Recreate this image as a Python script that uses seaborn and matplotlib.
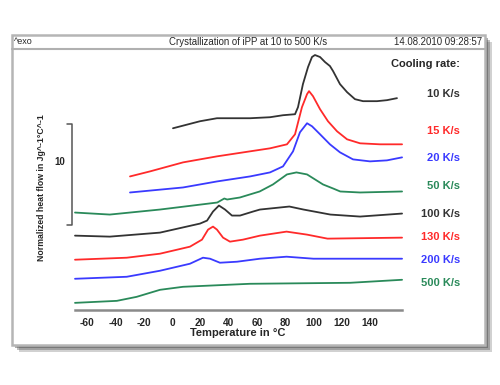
import numpy as np
import pandas as pd
import matplotlib
matplotlib.use("Agg")
import matplotlib.pyplot as plt
from matplotlib.patches import Rectangle
from matplotlib.lines import Line2D
import seaborn as sns

# cooling rates and curves (T in degC, heat flow offset-stacked)
rates = ["10 K/s", "15 K/s", "20 K/s", "50 K/s", "100 K/s", "130 K/s", "200 K/s", "500 K/s"]
colors = ["#333333", "#ff2a2a", "#3a3aff", "#2a8a5a", "#333333", "#ff2a2a", "#3a3aff", "#2a8a5a"]

t_10 = [0.7, 19.8, 31.8, 55.2, 69.3, 78.5, 87, 89.1, 92.6, 96.2, 99, 101.1, 104.7, 108.2, 111.7,
        113.9, 118.8, 123.8, 129.4, 135.1, 145, 152, 159.1]
hf_10 = [18.1, 18.8, 19.1, 19.1, 19.2, 19.4, 19.5, 20.2, 22.5, 24.2, 25.2, 25.4, 25.2, 24.7, 24.3,
         23.8, 22.5, 21.7, 21.0, 20.8, 20.8, 20.9, 21.1]

t_15 = [-29.7, -15.6, 7.8, 31.8, 55.2, 69.3, 81.3, 87, 91.9, 95.5, 96.9, 99.7, 104.7, 110.3, 116.7,
        123.8, 133, 147.1, 162.7]
hf_15 = [13.3, 13.8, 14.7, 15.3, 15.8, 16.1, 16.5, 17.5, 20.2, 21.5, 21.8, 21.3, 20.0, 18.8, 17.8,
         17.0, 16.6, 16.5, 16.5]

t_20 = [-29.7, 7.8, 31.8, 55.2, 69.3, 78.5, 85.6, 90.5, 95.5, 99, 104.7, 111.7, 118.8, 128, 140,
        152, 162.7]
hf_20 = [11.7, 12.2, 12.8, 13.3, 13.7, 14.3, 15.8, 17.7, 18.6, 18.3, 17.5, 16.5, 15.7, 15.0, 14.8,
         14.9, 15.2]

t_50 = [-68.6, -44, -8.5, 32, 37, 39, 48, 62, 71.4, 81.3, 88, 95.5, 106.8, 113.9, 119, 133, 162.7]
hf_50 = [9.7, 9.5, 10.0, 10.7, 11.1, 11.0, 11.2, 11.8, 12.5, 13.5, 13.7, 13.5, 12.5, 12.1, 11.8,
         11.7, 11.8]

t_100 = [-68.6, -44, -8.5, 19.8, 24.8, 29, 33.2, 37.5, 42.4, 48.1, 57.3, 62.2, 83, 93, 112, 133,
         162.7]
hf_100 = [7.4, 7.3, 7.7, 8.6, 8.9, 9.8, 10.4, 10.0, 9.4, 9.4, 9.8, 10.0, 10.3, 10.0, 9.5, 9.3, 9.6]

t_130 = [-68.6, -32, -8.5, 12.7, 21.2, 25.5, 29, 31.8, 36.1, 41, 50.2, 62.2, 81, 95.5, 110, 162.7]
hf_130 = [5.0, 5.2, 5.6, 6.3, 7.0, 8.0, 8.3, 8.0, 7.2, 6.8, 7.0, 7.4, 7.8, 7.5, 7.1, 7.2]

t_200 = [-68.6, -32, -8.5, 12.7, 21.9, 26.9, 33.9, 46, 62.2, 81, 100, 162.7]
hf_200 = [3.1, 3.3, 3.9, 4.6, 5.2, 5.1, 4.7, 4.8, 5.1, 5.3, 5.1, 5.1]

t_500 = [-68.6, -39, -25, -8.5, 7.8, 55, 126, 162.7]
hf_500 = [0.7, 0.9, 1.3, 2.0, 2.3, 2.6, 2.7, 3.0]

x_ticks = [-60, -40, -20, 0, 20, 40, 60, 80, 100, 120, 140]

curves = [(t_10, hf_10), (t_15, hf_15), (t_20, hf_20), (t_50, hf_50),
          (t_100, hf_100), (t_130, hf_130), (t_200, hf_200), (t_500, hf_500)]
df = pd.concat([pd.DataFrame({"T": t, "hf": h, "rate": r}) for r, (t, h) in zip(rates, curves)],
               ignore_index=True)

sns.set_style("white")
plt.rcParams["font.family"] = ["Liberation Sans", "DejaVu Sans"]
plt.rcParams["axes.unicode_minus"] = False

W, H = 500, 385
fig = plt.figure(figsize=(5.0, 3.85), dpi=100)


def fx(px):
    return px / W


def fy(py):
    return 1 - py / H


# window shadow and frame (behind the axes)
for off, a in [(7, 0.25), (5, 0.35), (3, 0.45)]:
    fig.patches.append(Rectangle((fx(12 + off), fy(345 + off)), fx(473), 310 / H,
                                 transform=fig.transFigure, facecolor="#4a4a4a",
                                 edgecolor="none", alpha=a, zorder=-3))
fig.patches.append(Rectangle((fx(12), fy(345)), fx(473), 310 / H, transform=fig.transFigure,
                             facecolor="white", edgecolor="#b5b5b5", linewidth=1.8, zorder=-2))
fig.lines.append(Line2D([fx(12), fx(485)], [fy(49), fy(49)], transform=fig.transFigure,
                        color="#b0b0b0", linewidth=1.5, zorder=-1))
fig.text(fx(14), fy(42), "^exo", fontsize=6.5, va="center", ha="left")
fig.text(fx(248), fy(42), "Crystallization of iPP at 10 to 500 K/s", fontsize=6.9,
         va="center", ha="center")
fig.text(fx(482), fy(42), "14.08.2010 09:28:57", fontsize=6.9, va="center", ha="right")

ax = fig.add_axes([fx(14), fy(345), fx(469), (345 - 50) / H])
ax.patch.set_alpha(0)

sns.lineplot(data=df, x="T", y="hf", hue="rate", palette=colors, estimator=None,
             sort=False, legend=False, linewidth=1.3, ax=ax)
for ln in ax.get_lines():
    ln.set_solid_joinstyle("round")


def tx(px):
    return (px - 172) / 1.414


ax.set_xlim(tx(14), tx(483))
ax.set_ylim(-3.5, 25.9)
for s in ["top", "left", "right"]:
    ax.spines[s].set_visible(False)
ax.spines["bottom"].set_position(("data", 0))
ax.spines["bottom"].set_bounds(tx(75), tx(402))
ax.spines["bottom"].set_color("#8a8a8a")
ax.spines["bottom"].set_linewidth(1.8)
ax.set_yticks([])
ax.set_xticks(x_ticks)
ax.set_xticks([t + 10 for t in x_ticks[:-1]] + [-70, 150], minor=True)
ax.tick_params(axis="x", which="major", direction="out", length=3, width=1, color="#555555",
               labelsize=7.3, pad=2.5)
ax.tick_params(axis="x", which="minor", direction="out", length=2, width=0.8, color="#555555")
for lab in ax.get_xticklabels():
    lab.set_fontweight("bold")
ax.set_xlabel("Temperature in \u00b0C", fontsize=8, fontweight="bold")
ax.xaxis.set_label_coords((238 - 14) / 469, (345 - 333) / 295, transform=ax.transAxes)
ax.xaxis.label.set_va("center")
ax.set_ylabel("")

# scale bar 10 units
bar_x = tx(72)
ax.plot([tx(67), bar_x, bar_x, tx(67)], [18.5, 18.5, 8.5, 8.5], color="#555555", linewidth=1.1)
ax.text(tx(60), 14.7, "10", fontsize=7, fontweight="bold", ha="center", va="center")
ax.text(tx(42), 12.2, "Normalized heat flow in Jg^-1\u00b0C^-1", rotation=90, fontsize=6.3,
        fontweight="bold", ha="center", va="center")

# rate labels
ax.text(tx(460), 24.5, "Cooling rate:", fontsize=8, fontweight="bold", ha="right", va="center")
label_y = [21.5, 17.8, 15.1, 12.3, 9.6, 7.3, 5.0, 2.7]
for r, c, y in zip(rates, colors, label_y):
    ax.text(tx(460), y, r, color=c, fontsize=8, fontweight="bold", ha="right", va="center")

fig.savefig("out.png", dpi=100)
